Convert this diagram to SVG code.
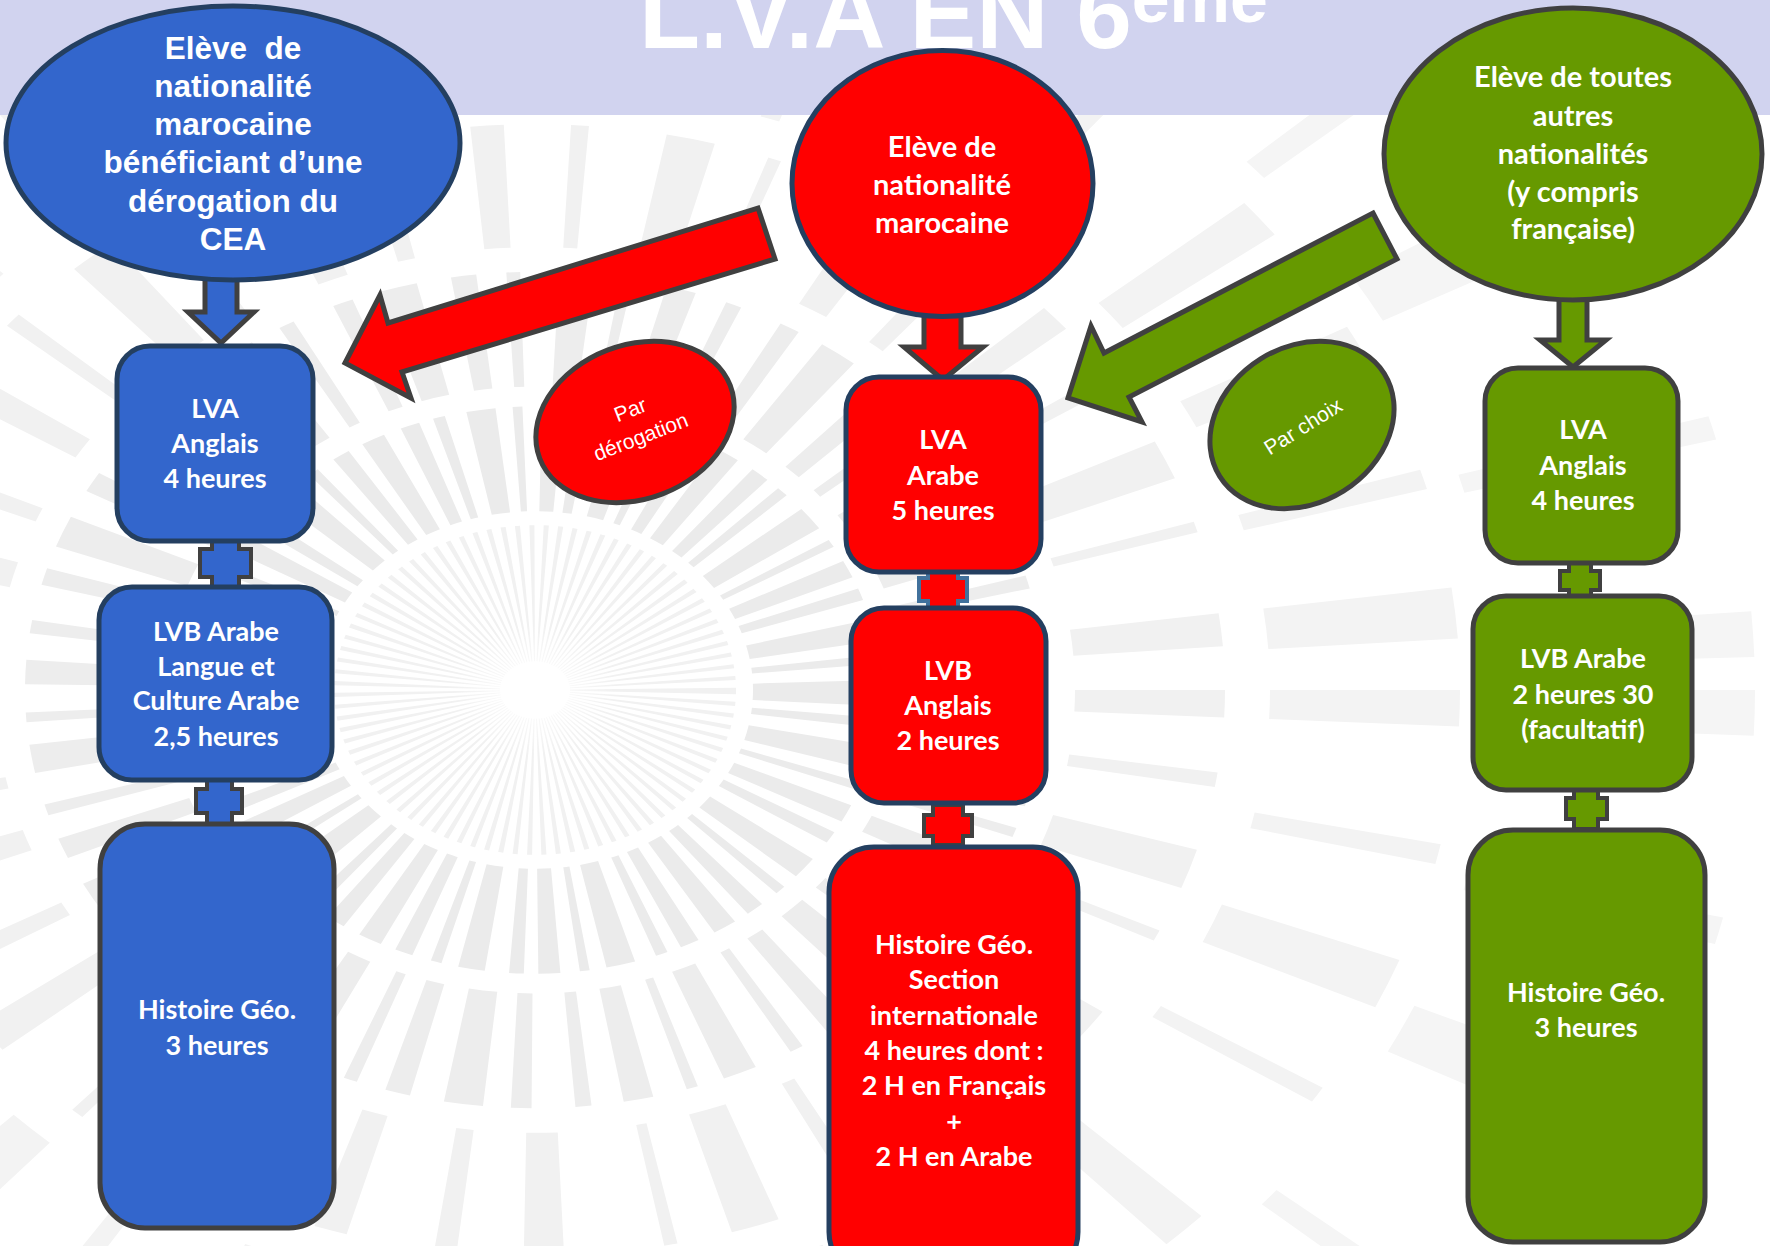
<svg xmlns="http://www.w3.org/2000/svg" width="1770" height="1246" viewBox="0 0 1770 1246">
<defs>
<style>
.t{font-family:Lato,'Open Sans','DejaVu Sans',sans-serif;font-weight:700;fill:#fff;text-anchor:middle}
.tb{font-size:27px}
.te{font-size:29px}
.ta{font-family:'Liberation Sans',Arial,sans-serif;font-weight:700;font-size:31.5px;fill:#fff;text-anchor:middle}
.ts{font-family:'Liberation Sans',Arial,sans-serif;font-size:21px;fill:#fff;text-anchor:middle}
.blue{fill:#3366CC}
.red{fill:#FF0000}
.green{fill:#669900}
.sn{stroke:#243F60;stroke-width:5}
.sg{stroke:#404040;stroke-width:5}
.sp{stroke:#404040;stroke-width:4}
.spb{stroke:#41719C;stroke-width:4}
.ray{fill:none}
</style>
<radialGradient id="fade" cx="0.5" cy="0.5" r="0.5">
<stop offset="0" stop-color="#fff" stop-opacity="1"/>
<stop offset="1" stop-color="#fff" stop-opacity="0"/>
</radialGradient>
</defs>
<rect width="1770" height="1246" fill="#fff"/>
<g id="background" transform="translate(535 690) scale(1 0.82)">
<circle class="ray" r="118" stroke="#F1F1F1" stroke-width="166" stroke-dasharray="3 5.5"/>
<circle class="ray" r="282" stroke="#EBEBEB" stroke-width="128" stroke-dasharray="16 12 10 18 24 14 8 16 18 12 12 20 22 14 9 16 15 13 20 15"/>
<circle class="ray" r="440" stroke="#EDEDED" stroke-width="140" stroke-dasharray="22 26 12 34 30 24 10 30 26 28 14 38 18 24 34 30"/>
<circle class="ray" r="615" stroke="#F1F1F1" stroke-width="150" stroke-dasharray="30 60 16 70 44 50 12 90 36 60 20 80"/>
<circle class="ray" r="830" stroke="#F3F3F3" stroke-width="190" stroke-dasharray="40 130 22 110 56 100 18 160 44 120"/>
<circle class="ray" r="1090" stroke="#F5F5F5" stroke-width="260" stroke-dasharray="50 200 30 170 70 230 26 190"/>
<circle r="80" fill="url(#fade)"/>
</g>
<rect id="header" x="0" y="0" width="1770" height="115" fill="#D1D3EF"/>
<text id="title" x="639" y="48" font-family="'Liberation Sans',Arial,sans-serif" font-weight="700" font-size="100" fill="#fff">L.V.A EN 6<tspan font-size="68" dy="-26">ème</tspan></text>

<g id="connectors">
<polygon class="blue sg" points="205,276 237,276 237,312 254,312 221,343 188,312 205,312"/>
<polygon class="red sg" points="924,312 961,312 961,347 983,347 943,380 904,347 924,347"/>
<polygon class="green sg" points="1559,296 1587,296 1587,340 1606,340 1573,367 1540,340 1559,340"/>
<polygon class="red sg" points="758,208 775,259 402,372 411,398 345,363 380,295 388,323"/>
<polygon class="green sg" points="1373,213 1397,259 1129,397 1142,422 1068,398 1091,326 1104,353"/>
<polygon class="blue sp" points="212,538 239,538 239,549 251,549 251,577 239,577 239,587 212,587 212,577 200,577 200,549 212,549"/>
<polygon class="blue sp" points="207,780 232,780 232,789 242,789 242,813 232,813 232,824 207,824 207,813 196,813 196,789 207,789"/>
<polygon class="red spb" points="928,572 958,572 958,578 967,578 967,601 958,601 958,610 928,610 928,601 919,601 919,578 928,578"/>
<polygon class="red sp" points="933,805 963,805 963,815 972,815 972,836 963,836 963,845 933,845 933,836 924,836 924,815 933,815"/>
<polygon class="green sp" points="1569,562 1591,562 1591,571 1600,571 1600,590 1591,590 1591,598 1569,598 1569,590 1560,590 1560,571 1569,571"/>
<polygon class="green sp" points="1574,790 1598,790 1598,798 1607,798 1607,819 1598,819 1598,829 1574,829 1574,819 1566,819 1566,798 1574,798"/>
</g>

<g id="node-blue-eleve">
<ellipse class="blue sn" cx="233" cy="143" rx="227" ry="137"/>
<text class="ta" xml:space="preserve"><tspan x="233" y="59">Elève  de</tspan><tspan x="233" y="97">nationalité</tspan><tspan x="233" y="135">marocaine</tspan><tspan x="233" y="173">bénéficiant d’une</tspan><tspan x="233" y="212">dérogation du</tspan><tspan x="233" y="250">CEA</tspan></text>
</g>
<g id="node-red-eleve">
<ellipse class="red sn" cx="942.5" cy="183.5" rx="150.5" ry="133"/>
<text class="t te"><tspan x="942" y="157">Elève de</tspan><tspan x="942" y="195">nationalité</tspan><tspan x="942" y="233">marocaine</tspan></text>
</g>
<g id="node-green-eleve">
<ellipse class="green sg" cx="1573" cy="154" rx="189" ry="146"/>
<text class="t te"><tspan x="1573" y="87">Elève de toutes</tspan><tspan x="1573" y="126">autres</tspan><tspan x="1573" y="164">nationalités</tspan><tspan x="1573" y="202">(y compris</tspan><tspan x="1573" y="239">française)</tspan></text>
</g>

<g id="node-par-derogation">
<ellipse class="red sg" cx="635" cy="422" rx="102" ry="77" transform="rotate(-21 635 422)"/>
<text class="ts" transform="rotate(-21 635 422)"><tspan x="635" y="416">Par</tspan><tspan x="635" y="445">dérogation</tspan></text>
</g>
<g id="node-par-choix">
<ellipse class="green sg" cx="1302" cy="425" rx="97" ry="78" transform="rotate(-32 1302 425)"/>
<text class="ts" x="1302" y="434" transform="rotate(-32 1302 425)">Par choix</text>
</g>

<g id="node-blue-lva">
<rect class="blue sn" x="117" y="346" width="196" height="195" rx="33"/>
<text class="t tb"><tspan x="215" y="418">LVA</tspan><tspan x="215" y="453">Anglais</tspan><tspan x="215" y="488">4 heures</tspan></text>
</g>
<g id="node-blue-lvb">
<rect class="blue sn" x="99" y="587" width="233" height="193" rx="33"/>
<text class="t tb"><tspan x="216" y="641">LVB Arabe</tspan><tspan x="216" y="676">Langue et</tspan><tspan x="216" y="710">Culture Arabe</tspan><tspan x="216" y="746">2,5 heures</tspan></text>
</g>
<g id="node-blue-hg">
<rect class="blue sg" x="100" y="824" width="234" height="404" rx="45"/>
<text class="t tb"><tspan x="217" y="1019">Histoire Géo.</tspan><tspan x="217" y="1055">3 heures</tspan></text>
</g>

<g id="node-red-lva">
<rect class="red sn" x="846" y="377" width="195" height="195" rx="33"/>
<text class="t tb"><tspan x="943" y="449">LVA</tspan><tspan x="943" y="485">Arabe</tspan><tspan x="943" y="520">5 heures</tspan></text>
</g>
<g id="node-red-lvb">
<rect class="red sn" x="851" y="608" width="195" height="195" rx="33"/>
<text class="t tb"><tspan x="948" y="680">LVB</tspan><tspan x="948" y="715">Anglais</tspan><tspan x="948" y="750">2 heures</tspan></text>
</g>
<g id="node-red-hg">
<rect class="red sn" x="829" y="847" width="249" height="430" rx="45"/>
<text class="t tb"><tspan x="954" y="954">Histoire Géo.</tspan><tspan x="954" y="989">Section</tspan><tspan x="954" y="1025">internationale</tspan><tspan x="954" y="1060">4 heures dont :</tspan><tspan x="954" y="1095">2 H en Français</tspan><tspan x="954" y="1131">+</tspan><tspan x="954" y="1166">2 H en Arabe</tspan></text>
</g>

<g id="node-green-lva">
<rect class="green sg" x="1485" y="368" width="193" height="195" rx="33"/>
<text class="t tb"><tspan x="1583" y="439">LVA</tspan><tspan x="1583" y="475">Anglais</tspan><tspan x="1583" y="510">4 heures</tspan></text>
</g>
<g id="node-green-lvb">
<rect class="green sg" x="1473" y="596" width="219" height="194" rx="33"/>
<text class="t tb"><tspan x="1583" y="668">LVB Arabe</tspan><tspan x="1583" y="704">2 heures 30</tspan><tspan x="1583" y="739">(facultatif)</tspan></text>
</g>
<g id="node-green-hg">
<rect class="green sg" x="1468" y="830" width="237" height="412" rx="45"/>
<text class="t tb" x="1586" y="1002">Histoire Géo.</text>
<text class="t tb" x="1586" y="1037" font-weight="400">3 heures</text>
</g>
</svg>
